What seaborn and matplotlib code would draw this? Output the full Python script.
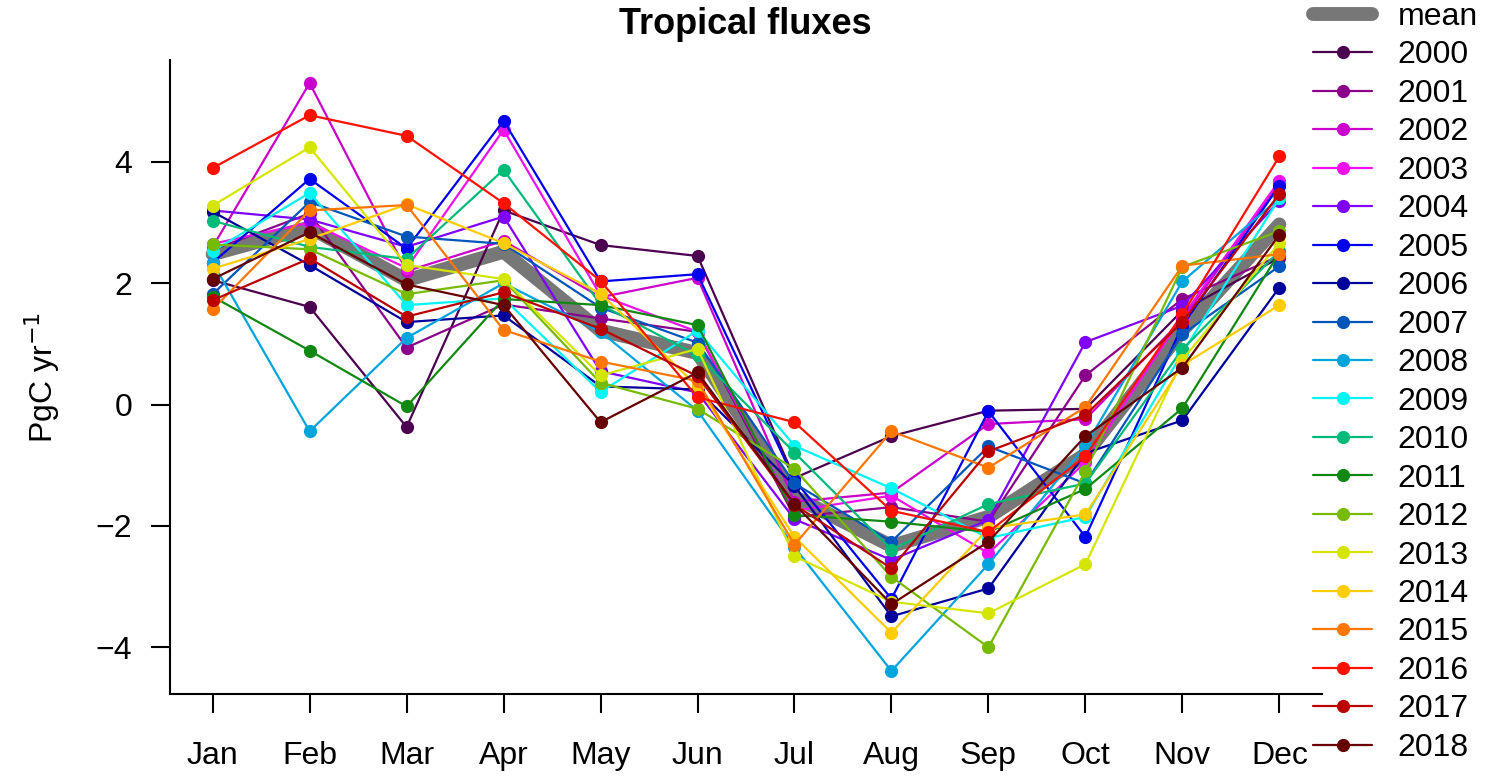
import numpy as np
import pandas as pd
import seaborn as sns
import matplotlib
matplotlib.use("Agg")
import matplotlib.pyplot as plt
from matplotlib.lines import Line2D

months = ["Jan", "Feb", "Mar", "Apr", "May", "Jun", "Jul", "Aug", "Sep", "Oct", "Nov", "Dec"]
years = [str(y) for y in range(2000, 2019)]

mean_flux = [2.48, 2.92, 2.05, 2.52, 1.22, 0.85, -1.52, -2.33, -1.85, -0.82, 1.22, 2.97]

y2000 = [2.05, 1.61, -0.37, 3.20, 2.63, 2.45, -1.21, -0.52, -0.10, -0.07, 1.55, 2.42]
y2001 = [2.55, 3.15, 0.94, 1.65, 1.42, 1.20, -1.85, -1.69, -1.93, 0.48, 1.74, 2.45]
y2002 = [2.60, 5.30, 2.20, 2.70, 1.77, 2.09, -1.60, -1.45, -0.32, -0.24, 1.40, 3.65]
y2003 = [2.65, 3.00, 2.25, 4.53, 1.80, 1.20, -1.75, -1.50, -2.45, -0.95, 1.45, 3.69]
y2004 = [3.20, 3.05, 2.60, 3.10, 0.55, 0.20, -1.89, -2.56, -1.90, 1.03, 1.63, 3.36]
y2005 = [2.34, 3.72, 2.57, 4.68, 2.03, 2.15, -1.24, -3.20, -0.11, -2.18, 1.30, 3.61]
y2006 = [3.18, 2.30, 1.36, 1.47, 0.30, 0.25, -1.34, -3.49, -3.03, -0.80, -0.26, 1.93]
y2007 = [1.82, 3.34, 2.77, 2.65, 1.60, 1.02, -1.30, -2.26, -0.69, -1.30, 1.16, 2.28]
y2008 = [2.34, -0.44, 1.10, 2.00, 1.20, -0.10, -2.35, -4.39, -2.63, -0.68, 2.03, 3.40]
y2009 = [2.53, 3.49, 1.64, 1.75, 0.21, 1.22, -0.68, -1.38, -2.20, -1.85, 0.85, 3.40]
y2010 = [3.03, 2.60, 2.40, 3.87, 1.65, 0.81, -0.79, -2.39, -1.64, -1.30, 0.91, 2.53]
y2011 = [1.78, 0.89, -0.03, 1.74, 1.64, 1.31, -1.82, -1.93, -2.10, -1.39, -0.06, 2.50]
y2012 = [2.64, 2.56, 1.82, 2.05, 0.36, -0.07, -1.06, -2.84, -4.00, -1.10, 2.27, 2.86]
y2013 = [3.28, 4.24, 2.30, 2.07, 0.48, 0.92, -2.50, -3.25, -3.44, -2.63, 0.74, 2.66]
y2014 = [2.24, 2.73, 3.30, 2.66, 1.83, 0.30, -2.18, -3.76, -2.04, -1.81, 0.65, 1.64]
y2015 = [1.57, 3.20, 3.29, 1.23, 0.71, 0.39, -2.31, -0.44, -1.04, -0.04, 2.29, 2.48]
y2016 = [3.90, 4.77, 4.43, 3.32, 2.04, 0.12, -0.29, -1.75, -2.10, -0.85, 1.49, 4.09]
y2017 = [1.72, 2.41, 1.45, 1.85, 1.25, 0.47, -1.65, -2.70, -0.77, -0.17, 1.36, 3.47]
y2018 = [2.07, 2.84, 1.98, 1.64, -0.29, 0.53, -1.64, -3.29, -2.26, -0.52, 0.61, 2.80]

series = [y2000, y2001, y2002, y2003, y2004, y2005, y2006, y2007, y2008, y2009,
          y2010, y2011, y2012, y2013, y2014, y2015, y2016, y2017, y2018]

colors = ["#4B0050", "#8B008B", "#CC00CC", "#F010F0", "#8000FF", "#0000EE",
          "#00009B", "#0055BB", "#00A5DD", "#00F5F5", "#00BB77", "#118811",
          "#77BB00", "#D4E600", "#FFCC00", "#FF7700", "#FF1100", "#BB0000",
          "#660000"]

sns.set_style("ticks")
plt.rcParams["font.family"] = ["Liberation Sans", "DejaVu Sans"]
for k in ["text.color", "axes.labelcolor", "xtick.color", "ytick.color", "axes.edgecolor"]:
    plt.rcParams[k] = "black"

month_idx = np.arange(1, 13)
df = pd.DataFrame({
    "month": np.tile(month_idx, len(years)),
    "year": np.repeat(years, 12),
    "flux": np.concatenate(series),
})
df_mean = pd.DataFrame({"month": month_idx, "flux": mean_flux})

fig = plt.figure(figsize=(14.91, 7.79), dpi=100)
ax = fig.add_axes([170 / 1491, 1 - 694 / 779, (1322 - 170) / 1491, (694 - 60) / 779])

MS = 9.5
sns.lineplot(data=df_mean, x="month", y="flux", color="#777777", linewidth=10,
             solid_capstyle="round", ax=ax, legend=False)
sns.lineplot(data=df, x="month", y="flux", hue="year", palette=colors,
             marker="o", markersize=MS, markeredgewidth=0, linewidth=1.6,
             sort=False, ax=ax, legend=False)

ax.set_xlim(1 - 0.44, 12 + 0.44)
ax.set_ylim(-4.77, 5.68)
ax.set_xticks(month_idx)
ax.set_xticklabels(months)
ax.set_yticks([-4, -2, 0, 2, 4])
ax.tick_params(axis="both", length=14, width=1.5, labelsize=23, color="black",
               labelcolor="black")
ax.tick_params(axis="x", pad=20)
ax.tick_params(axis="y", pad=13)
for s in ["top", "right"]:
    ax.spines[s].set_visible(False)
for s in ["left", "bottom"]:
    ax.spines[s].set_linewidth(1.5)
    ax.spines[s].set_color("black")
ax.set_xlabel("")
ax.set_ylabel("PgC yr$^{-1}$", fontsize=23, color="black")
ax.yaxis.set_label_coords(-0.094, 0.5)

fig.text(745 / 1491, 1 - 25 / 779, "Tropical fluxes", fontsize=26,
         fontweight="bold", ha="center", va="center", color="black")

handles = [Line2D([], [], color="#777777", linewidth=10, solid_capstyle="round")]
labels = ["mean"]
for c, y in zip(colors, years):
    handles.append(Line2D([], [], color=c, linewidth=1.6, marker="o",
                          markersize=MS, markeredgewidth=0))
    labels.append(y)
fig.legend(handles, labels, loc="upper left",
           bbox_to_anchor=(1313 / 1491, 1 - 2 / 779), frameon=False,
           fontsize=23, handlelength=1.85, handletextpad=0.8,
           labelspacing=0.265, borderpad=0, borderaxespad=0)

fig.savefig("out.png", dpi=100)
